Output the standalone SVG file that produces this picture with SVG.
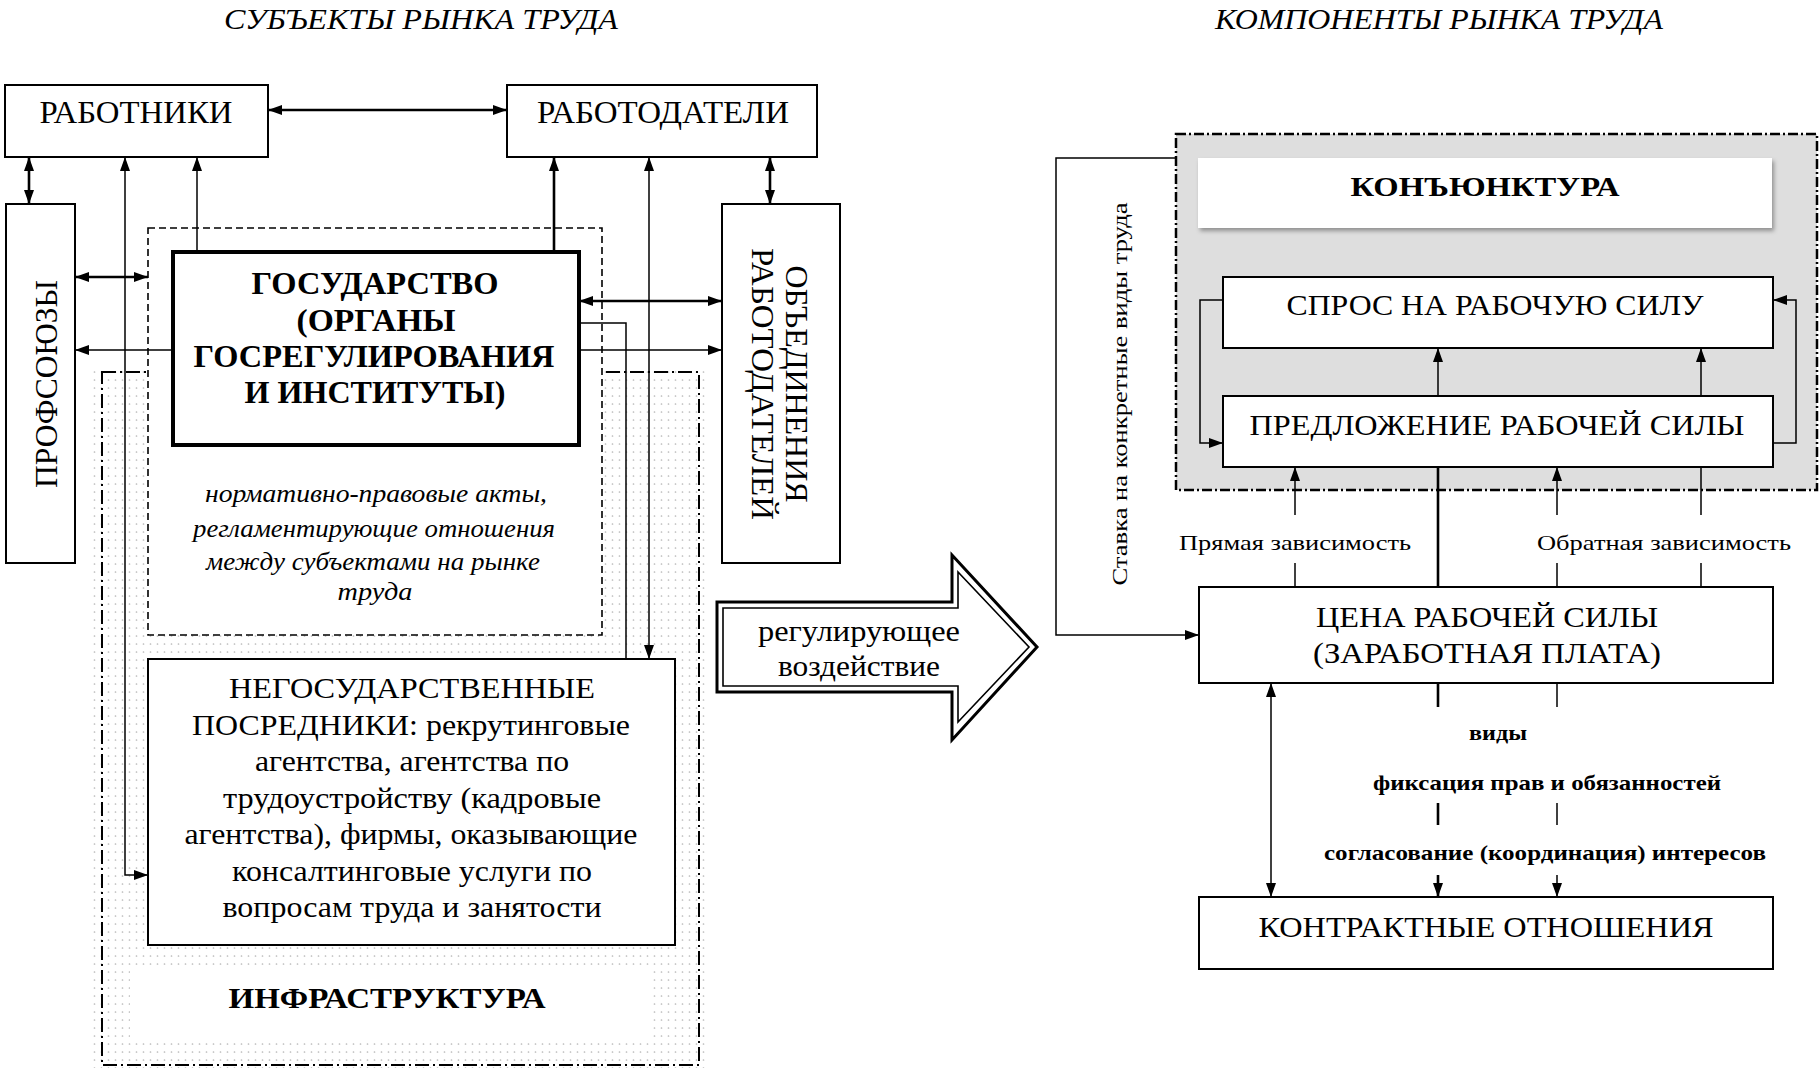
<svg xmlns="http://www.w3.org/2000/svg" width="1820" height="1070" viewBox="0 0 1820 1070">
<style>
.box{fill:#fff;stroke:#000;stroke-width:2}
.ln{fill:none;stroke:#000;stroke-width:1.5}
.thk{stroke-width:2.6}
.t{font-family:"Liberation Serif","Times New Roman",serif;fill:#000}
.c{text-anchor:middle}
.b{font-weight:bold}
.i{font-style:italic}
</style>
<defs>
<marker id="ah" viewBox="0 0 14 10" refX="14" refY="5" markerWidth="14" markerHeight="10" markerUnits="userSpaceOnUse" orient="auto-start-reverse"><path d="M0,0 L14,5 L0,10 z" fill="#000"/></marker>
<pattern id="dots" x="0" y="0" width="7" height="8" patternUnits="userSpaceOnUse"><circle cx="3.5" cy="4" r="0.85" fill="#b8b8b8"/></pattern>
<filter id="sh" x="-5%" y="-20%" width="110%" height="140%"><feDropShadow dx="2" dy="3" stdDeviation="2" flood-color="#000" flood-opacity="0.35"/></filter>
</defs>
<rect x="0" y="0" width="1820" height="1070" fill="#fff"/>

<!-- titles -->
<text class="t i c" x="421" y="29" font-size="30" textLength="394" lengthAdjust="spacingAndGlyphs">СУБЪЕКТЫ РЫНКА ТРУДА</text>
<text class="t i c" x="1439" y="29" font-size="30" textLength="448" lengthAdjust="spacingAndGlyphs">КОМПОНЕНТЫ РЫНКА ТРУДА</text>

<!-- infrastructure -->
<g id="infrastructure">
<rect x="92" y="365" width="614" height="703" fill="url(#dots)"/>
<rect x="102" y="372" width="597" height="693" fill="none" stroke="#000" stroke-width="2" stroke-dasharray="14 4 2 4"/>
<rect x="130" y="967" width="520" height="73" fill="#fff"/>
<text class="t b c" x="387" y="1008" font-size="30" textLength="317" lengthAdjust="spacingAndGlyphs">ИНФРАСТРУКТУРА</text>
</g>

<g id="normative">
<rect x="148" y="228" width="454" height="407" fill="#fff" stroke="#000" stroke-width="1.6" stroke-dasharray="7 4"/>
<text class="t i c" font-size="25" x="376" y="502" textLength="342" lengthAdjust="spacingAndGlyphs">нормативно-правовые акты,</text>
<text class="t i c" font-size="25" x="374" y="537" textLength="362" lengthAdjust="spacingAndGlyphs">регламентирующие отношения</text>
<text class="t i c" font-size="25" x="373" y="570" textLength="334" lengthAdjust="spacingAndGlyphs">между субъектами на рынке</text>
<text class="t i c" font-size="25" x="375" y="600" textLength="75" lengthAdjust="spacingAndGlyphs">труда</text>
</g>

<g id="gov">
<rect x="173" y="252" width="406" height="193" fill="#fff" stroke="#000" stroke-width="4"/>
<text class="t b c" font-size="32" x="375" y="294" textLength="247" lengthAdjust="spacingAndGlyphs">ГОСУДАРСТВО</text>
<text class="t b c" font-size="32" x="376" y="331" textLength="159" lengthAdjust="spacingAndGlyphs">(ОРГАНЫ</text>
<text class="t b c" font-size="32" x="374" y="367" textLength="361" lengthAdjust="spacingAndGlyphs">ГОСРЕГУЛИРОВАНИЯ</text>
<text class="t b c" font-size="32" x="375" y="403" textLength="261" lengthAdjust="spacingAndGlyphs">И ИНСТИТУТЫ)</text>
</g>

<g id="workers">
<rect class="box" x="5" y="85" width="263" height="72"/>
<text class="t c" font-size="31" x="136" y="123" textLength="193" lengthAdjust="spacingAndGlyphs">РАБОТНИКИ</text>
</g>

<g id="employers">
<rect class="box" x="507" y="85" width="310" height="72"/>
<text class="t c" font-size="31" x="663" y="123" textLength="252" lengthAdjust="spacingAndGlyphs">РАБОТОДАТЕЛИ</text>
</g>

<g id="unions">
<rect class="box" x="6" y="204" width="69" height="359"/>
<text class="t c" font-size="31" transform="translate(57,384) rotate(-90)" x="0" y="0" textLength="208" lengthAdjust="spacingAndGlyphs">ПРОФСОЮЗЫ</text>
</g>

<g id="employer-unions">
<rect class="box" x="722" y="204" width="118" height="359"/>
<text class="t c" font-size="31" transform="translate(786,384) rotate(90)" x="0" y="0" textLength="237" lengthAdjust="spacingAndGlyphs">ОБЪЕДИНЕНИЯ</text>
<text class="t c" font-size="31" transform="translate(752,384) rotate(90)" x="0" y="0" textLength="272" lengthAdjust="spacingAndGlyphs">РАБОТОДАТЕЛЕЙ</text>
</g>

<g id="ngo">
<rect class="box" x="148" y="659" width="527" height="286"/>
<text class="t c" font-size="30" x="412" y="698" textLength="366" lengthAdjust="spacingAndGlyphs">НЕГОСУДАРСТВЕННЫЕ</text>
<text class="t c" font-size="30" x="411" y="734.5" textLength="438" lengthAdjust="spacingAndGlyphs">ПОСРЕДНИКИ: рекрутинговые</text>
<text class="t c" font-size="30" x="412" y="771" textLength="314" lengthAdjust="spacingAndGlyphs">агентства, агентства по</text>
<text class="t c" font-size="30" x="412" y="807.5" textLength="378" lengthAdjust="spacingAndGlyphs">трудоустройству (кадровые</text>
<text class="t c" font-size="30" x="411" y="844" textLength="453" lengthAdjust="spacingAndGlyphs">агентства), фирмы, оказывающие</text>
<text class="t c" font-size="30" x="412" y="880.5" textLength="360" lengthAdjust="spacingAndGlyphs">консалтинговые услуги по</text>
<text class="t c" font-size="30" x="412" y="917" textLength="379" lengthAdjust="spacingAndGlyphs">вопросам труда и занятости</text>
</g>

<g id="regulating-arrow">
<polygon points="717,602 952,602 952,555 1037,647 952,740 952,692 717,692" fill="#fff" stroke="#000" stroke-width="3" stroke-linejoin="miter"/>
<polygon points="723,608 958,608 958,572 1029,647 958,722 958,686 723,686" fill="none" stroke="#000" stroke-width="1.6"/>
<text class="t c" font-size="29" x="859" y="641" textLength="202" lengthAdjust="spacingAndGlyphs">регулирующее</text>
<text class="t c" font-size="29" x="859" y="676" textLength="162" lengthAdjust="spacingAndGlyphs">воздействие</text>
</g>

<!-- right side -->
<g id="konjunktura">
<rect x="1176" y="134" width="641" height="356" fill="#dedede" stroke="#000" stroke-width="2.5" stroke-dasharray="10 3 2 3"/>
<rect x="1198" y="158" width="574" height="70" fill="#fff" filter="url(#sh)"/>
<text class="t b c" font-size="28" x="1485" y="196" textLength="269" lengthAdjust="spacingAndGlyphs">КОНЪЮНКТУРА</text>
</g>

<g id="demand">
<rect class="box" x="1223" y="277" width="550" height="71"/>
<text class="t c" font-size="30" x="1495" y="315" textLength="417" lengthAdjust="spacingAndGlyphs">СПРОС НА РАБОЧУЮ СИЛУ</text>
</g>

<g id="supply">
<rect class="box" x="1223" y="396" width="550" height="71"/>
<text class="t c" font-size="30" x="1497" y="435" textLength="495" lengthAdjust="spacingAndGlyphs">ПРЕДЛОЖЕНИЕ РАБОЧЕЙ СИЛЫ</text>
</g>

<g id="price">
<rect class="box" x="1199" y="587" width="574" height="96"/>
<text class="t c" font-size="30" x="1487" y="627" textLength="342" lengthAdjust="spacingAndGlyphs">ЦЕНА РАБОЧЕЙ СИЛЫ</text>
<text class="t c" font-size="30" x="1487" y="663" textLength="348" lengthAdjust="spacingAndGlyphs">(ЗАРАБОТНАЯ ПЛАТА)</text>
</g>

<g id="contract">
<rect class="box" x="1199" y="897" width="574" height="72"/>
<text class="t c" font-size="30" x="1486" y="937" textLength="455" lengthAdjust="spacingAndGlyphs">КОНТРАКТНЫЕ ОТНОШЕНИЯ</text>
</g>

<g id="connectors">
<!-- left -->
<line class="ln thk" x1="268" y1="110" x2="507" y2="110" marker-start="url(#ah)" marker-end="url(#ah)"/>
<line class="ln thk" x1="29" y1="157" x2="29" y2="204" marker-start="url(#ah)" marker-end="url(#ah)"/>
<path class="ln" d="M125,157 L125,875 L148,875" marker-start="url(#ah)" marker-end="url(#ah)"/>
<line class="ln" x1="197" y1="252" x2="197" y2="157" marker-end="url(#ah)"/>
<line class="ln thk" x1="554" y1="252" x2="554" y2="157" marker-end="url(#ah)"/>
<line class="ln" x1="649" y1="157" x2="649" y2="659" marker-start="url(#ah)" marker-end="url(#ah)"/>
<line class="ln thk" x1="770" y1="157" x2="770" y2="204" marker-start="url(#ah)" marker-end="url(#ah)"/>
<line class="ln thk" x1="75" y1="277" x2="148" y2="277" marker-start="url(#ah)" marker-end="url(#ah)"/>
<line class="ln" x1="173" y1="350" x2="75" y2="350" marker-end="url(#ah)"/>
<line class="ln thk" x1="579" y1="301" x2="722" y2="301" marker-start="url(#ah)" marker-end="url(#ah)"/>
<path class="ln" d="M579,323 L626,323 L626,659"/>
<line class="ln" x1="579" y1="350" x2="722" y2="350" marker-end="url(#ah)"/>
<!-- right -->
<path class="ln" d="M1176,158 L1056,158 L1056,635 L1199,635" marker-end="url(#ah)"/>
<path class="ln" d="M1223,300 L1200,300 L1200,443 L1223,443" marker-end="url(#ah)"/>
<path class="ln" d="M1773,443 L1796,443 L1796,300 L1773,300" marker-end="url(#ah)"/>
<line class="ln" x1="1438" y1="396" x2="1438" y2="348" marker-end="url(#ah)"/>
<line class="ln" x1="1701" y1="396" x2="1701" y2="348" marker-end="url(#ah)"/>
<line class="ln thk" x1="1438" y1="587" x2="1438" y2="467"/>
<line class="ln" x1="1295" y1="587" x2="1295" y2="563"/>
<line class="ln" x1="1295" y1="515" x2="1295" y2="467" marker-end="url(#ah)"/>
<line class="ln" x1="1557" y1="587" x2="1557" y2="563"/>
<line class="ln" x1="1557" y1="515" x2="1557" y2="467" marker-end="url(#ah)"/>
<line class="ln" x1="1701" y1="587" x2="1701" y2="563"/>
<line class="ln" x1="1701" y1="515" x2="1701" y2="467"/>
<line class="ln" x1="1271" y1="683" x2="1271" y2="897" marker-start="url(#ah)" marker-end="url(#ah)"/>
<line class="ln thk" x1="1438" y1="683" x2="1438" y2="707"/>
<line class="ln" x1="1557" y1="683" x2="1557" y2="707"/>
<line class="ln thk" x1="1438" y1="803" x2="1438" y2="825"/>
<line class="ln" x1="1557" y1="803" x2="1557" y2="825"/>
<line class="ln thk" x1="1438" y1="875" x2="1438" y2="897" marker-end="url(#ah)"/>
<line class="ln" x1="1557" y1="875" x2="1557" y2="897" marker-end="url(#ah)"/>
</g>

<g id="labels">
<text class="t" font-size="22" transform="translate(1127,394) rotate(-90)" x="0" y="0" text-anchor="middle" textLength="383" lengthAdjust="spacingAndGlyphs">Ставка на конкретные виды труда</text>
<text class="t c" font-size="22" x="1295" y="550" textLength="232" lengthAdjust="spacingAndGlyphs">Прямая зависимость</text>
<text class="t c" font-size="22" x="1664" y="550" textLength="254" lengthAdjust="spacingAndGlyphs">Обратная зависимость</text>
<text class="t b c" font-size="22" x="1498" y="740" textLength="58" lengthAdjust="spacingAndGlyphs">виды</text>
<text class="t b c" font-size="22" x="1547" y="790" textLength="348" lengthAdjust="spacingAndGlyphs">фиксация прав и обязанностей</text>
<text class="t b c" font-size="22" x="1545" y="860" textLength="442" lengthAdjust="spacingAndGlyphs">согласование (координация) интересов</text>
</g>
</svg>
